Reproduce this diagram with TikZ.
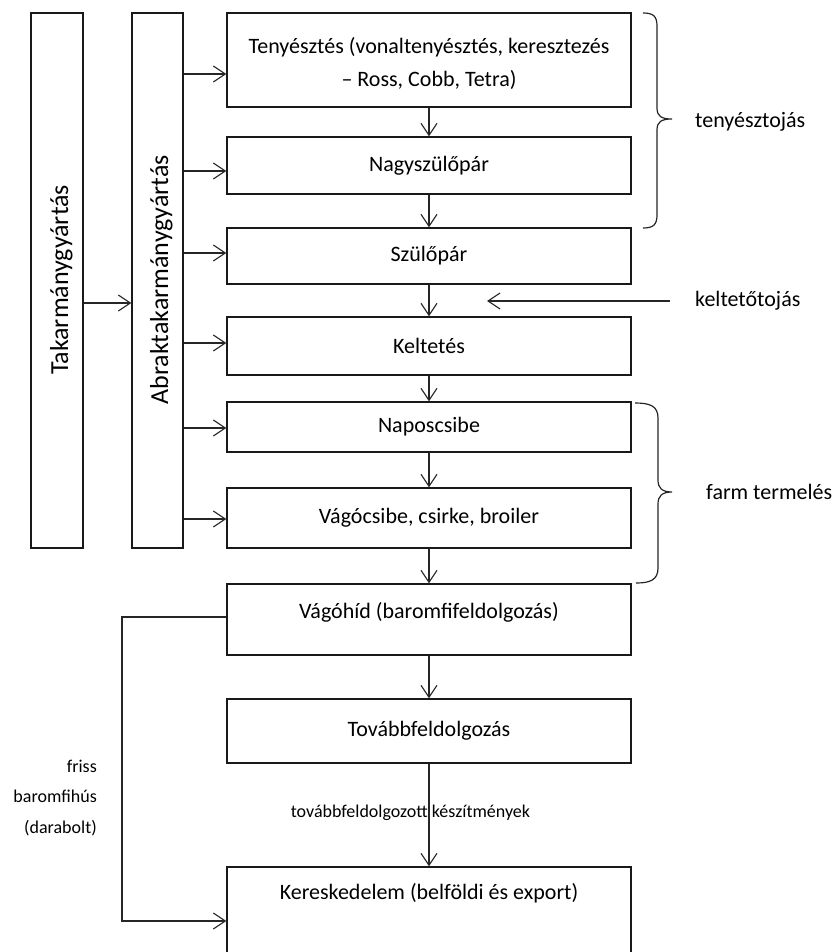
\documentclass[tikz,border=0pt]{standalone}
\usepackage{fontspec}
\setmainfont{Carlito}
\usetikzlibrary{arrows.meta,calc}
\begin{document}
\begin{tikzpicture}[x=1pt,y=-1pt,
  box/.style={draw=black!90, line width=1.3pt, minimum width=404pt, inner sep=0pt, font=\fontsize{22}{33}\selectfont, align=center},
  arr/.style={draw=black!85, line width=1.15pt, -{Straight Barb[length=12pt,width=16pt,line width=1.15pt]}},
  lbl/.style={font=\fontsize{22}{26}\selectfont, inner sep=0pt, anchor=west},
  small/.style={font=\fontsize{18}{30.5}\selectfont, inner sep=0pt},
  vbox/.style={draw=black!90, line width=1.3pt, minimum height=535pt, inner sep=0pt},
  vtxt/.style={rotate=90, anchor=base, inner sep=0pt, font=\fontsize{26}{30}\selectfont},
  brace/.style={draw=black!85, line width=1.2pt}]
\fill[white] (0,0) rectangle (837,952);
\useasboundingbox (0,0) rectangle (837,952);

% left vertical boxes
\node[vbox, minimum width=52pt] (tak) at (57,280.5) {};
\node[vbox, minimum width=51pt] (abr) at (157.5,280.5) {};
\node[vtxt] (takt) at (68,280) {Takarmánygyártás};
\node[vtxt] (abrt) at (168,280) {Abraktakarmánygyártás};

% main boxes
\node[box, minimum height=94pt] (b1) at (429,60) {};
\node[font=\fontsize{22}{33}\selectfont, align=center, inner sep=0pt] (t1) at (429,63) {Tenyésztés (vonaltenyésztés, keresztezés\\– Ross, Cobb, Tetra)};
\node[box, minimum height=57pt] (b2) at (429,165.5) {Nagyszülőpár};
\node[box, minimum height=56pt] (b3) at (429,256) {Szülőpár};
\node[box, minimum height=58pt] (b4) at (429,346) {Keltetés};
\node[box, minimum height=50pt] (b5) at (429,427) {Naposcsibe};
\node[box, minimum height=60pt] (b6) at (429,518) {Vágócsibe, csirke, broiler};
\node[box, minimum height=71pt] (b7) at (429,619.5) {};
\node[box, minimum height=64pt] (b8) at (429,731) {Továbbfeldolgozás};
\node[box, minimum height=95pt] (b9) at (429,914.5) {};
\node[font=\fontsize{22}{26}\selectfont, inner sep=0pt] (t7) at (429,612) {Vágóhíd (baromfifeldolgozás)};
\node[font=\fontsize{22}{26}\selectfont, inner sep=0pt] (t9) at (429,893) {Kereskedelem (belföldi és export)};

% feed arrows
\coordinate (y0) at (0,303);
\draw[arr] (tak.east |- y0) -- (abr.west |- y0);
\foreach \b/\y in {b1/74,b2/171,b3/253,b4/343,b5/428,b6/519}{
  \coordinate (yy) at (0,\y);
  \draw[arr] (abr.east |- yy) -- (\b.west |- yy);
}

% vertical flow
\foreach \a/\b in {b1/b2,b2/b3,b3/b4,b4/b5,b5/b6,b6/b7,b7/b8,b8/b9}
  \draw[arr] (\a.south) -- (\b.north);
\node[small] (tfk) at (410.5,813) {továbbfeldolgozott készítmények};

% keltetotojas
\node[lbl] (kelt) at (695,301) {keltetőtojás};
\coordinate (ktip) at (487,301);
\draw[arr] ([xshift=-25pt]kelt.west) -- (ktip);

% braces
\draw[brace] (643,13) .. controls (653,13) and (657,16) .. (657,26) -- (657,108)
  .. controls (657,116) and (661,119) .. (672,119)
  .. controls (661,119) and (657,122) .. (657,130) -- (657,215)
  .. controls (657,225) and (653,228) .. (643,228);
\node[lbl] (teny) at (695,122) {tenyésztojás};
\draw[brace] (635,403) .. controls (650,403) and (658,406) .. (658,418) -- (658,480)
  .. controls (658,488) and (662,492) .. (672,492)
  .. controls (662,492) and (658,496) .. (658,504) -- (658,568)
  .. controls (658,580) and (650,583) .. (636,583);
\node[lbl] (farm) at (706,492) {farm termelés};

% fresh meat bypass
\coordinate (y617) at (0,617);
\coordinate (y921) at (0,921);
\coordinate (lc) at (122,0);
\draw[arr] (b7.west |- y617) -- (lc |- y617) -- (lc |- y921) -- (b9.west |- y921);
\node[small, align=right, anchor=east] (friss) at (97,798) {friss\\baromfihús\\(darabolt)};
\end{tikzpicture}
\end{document}
